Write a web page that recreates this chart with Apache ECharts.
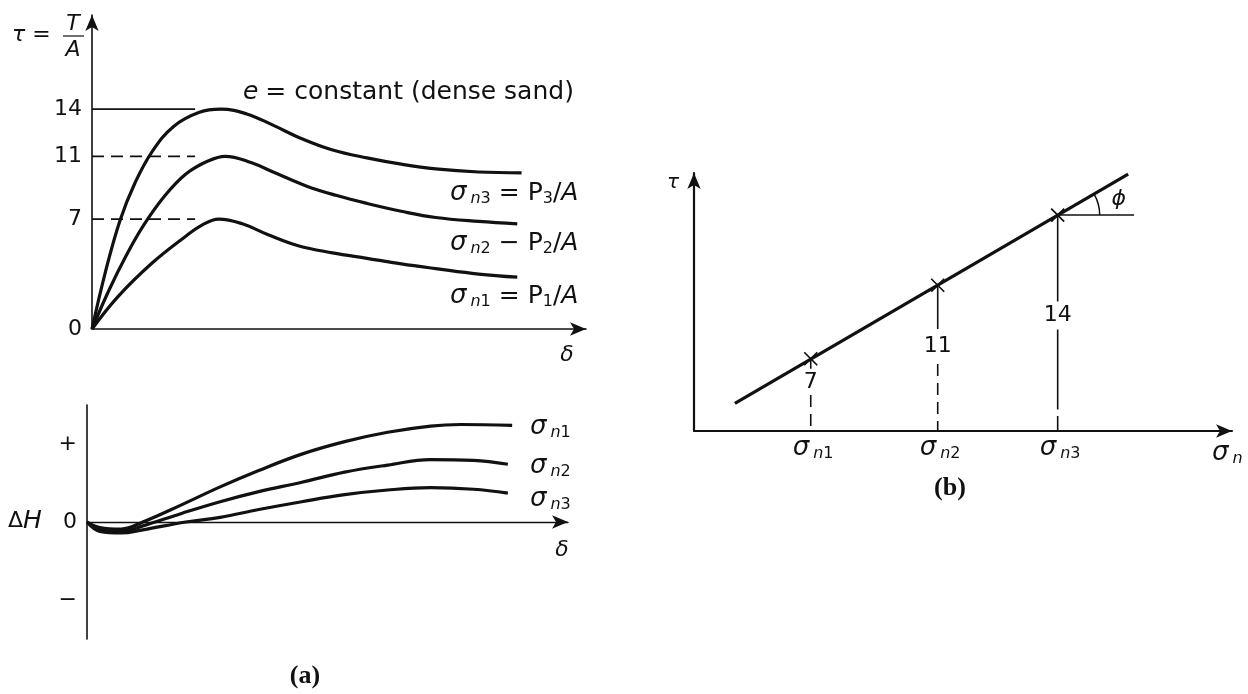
<!DOCTYPE html>
<html><head><meta charset="utf-8">
<script src="https://cdn.jsdelivr.net/npm/echarts@6/dist/echarts.min.js"></script>
<style>html,body{margin:0;padding:0;background:#fff}#c{width:1248px;height:694px}</style>
</head><body><div id="c"></div>
<script>
// ===== DATA =====
// (a) top: shear stress tau vs displacement delta  [delta, tau]
const tauCurveN3 = [[0,0],[0.3,3.5],[0.65,6.9],[1.0,9.3],[1.4,11.3],[1.9,12.9],[2.5,13.8],[3.0,14.0],[3.6,13.7],[4.2,13.0],[4.9,12.1],[5.6,11.4],[6.4,10.9],[7.2,10.5],[8.0,10.2],[9.0,10.0],[10.0,9.95]];
const tauCurveN2 = [[0,0],[0.4,2.5],[0.8,4.7],[1.2,6.6],[1.7,8.5],[2.2,9.9],[2.7,10.7],[3.1,11.0],[3.7,10.6],[4.3,9.9],[5.0,9.1],[5.7,8.5],[6.4,8.0],[7.2,7.5],[8.0,7.1],[9.0,6.85],[9.9,6.7]];
const tauCurveN1 = [[0,0],[0.6,2.05],[1.4,4.2],[2.16,5.86],[2.56,6.62],[2.95,7.0],[3.5,6.7],[4.1,6.0],[4.8,5.3],[5.6,4.85],[6.4,4.5],[7.2,4.15],[8.0,3.85],[9.0,3.5],[9.9,3.3]];
const peakTicks = [0, 7, 11, 14];
const peakLevels = [14, 11, 7];
// (a) bottom: height change dH vs delta  [delta, dH]
const dhCurveN1 = [[0,0],[0.3,-0.07],[0.8,-0.09],[1.3,0.0],[2.2,0.22],[3.1,0.45],[4.0,0.66],[5.0,0.87],[6.0,1.03],[7.0,1.15],[8.0,1.23],[8.7,1.25],[9.9,1.24]];
const dhCurveN2 = [[0,0],[0.3,-0.09],[0.8,-0.12],[1.3,-0.05],[2.2,0.11],[3.1,0.26],[4.0,0.39],[5.0,0.51],[6.0,0.64],[7.0,0.73],[8.0,0.8],[9.0,0.79],[9.8,0.74]];
const dhCurveN3 = [[0,0],[0.3,-0.12],[0.8,-0.14],[1.3,-0.1],[2.3,0.0],[3.1,0.06],[4.0,0.16],[5.0,0.26],[6.0,0.35],[7.0,0.41],[8.0,0.44],[9.0,0.42],[9.8,0.37]];
const dhTicks = {'1':'+','0':'0','-1':'\u2212'};
// (b) failure envelope (schematic units)
const sigmaN = [2.17, 4.53, 6.76];
const tauPlot = [2.8, 5.65, 8.37];
const tauLabels = ['7', '11', '14'];
const sigmaLabels = ['1', '2', '3'];
const envelopeEnds = [[0.76, 1.07], [8.07, 9.96]];

// ===== CHART =====
const chart = echarts.init(document.getElementById('c'), null, {renderer: 'canvas'});
const INK = '#111';
const SANS = 'DejaVu Sans';
const SERIF = 'Liberation Serif';

function curve(data, gi, w) {
  return {type: 'line', xAxisIndex: gi, yAxisIndex: gi, data: data, smooth: 0.4, symbol: 'none',
    silent: true, lineStyle: {color: INK, width: w || 3}, z: 5};
}
function seg(data, gi, dashed, w) {
  return {type: 'line', xAxisIndex: gi, yAxisIndex: gi, data: data, symbol: 'none', silent: true,
    lineStyle: {color: INK, width: w || 1.6, type: dashed ? [12, 7] : 'solid'}, z: 3};
}
const arrowLine = (w) => ({show: true, onZero: false, symbol: ['none', 'arrow'], symbolSize: [10, 16],
  lineStyle: {color: INK, width: w}});
const hidden = {axisTick: {show: false}, splitLine: {show: false}};

const subRich = {
  s: {fontFamily: SANS, fontSize: 26, fontStyle: 'italic', color: INK, verticalAlign: 'middle', lineHeight: 28},
  b: {fontFamily: SANS, fontSize: 16, color: INK, verticalAlign: 'bottom', lineHeight: 18},
  bi: {fontFamily: SANS, fontSize: 16, fontStyle: 'italic', color: INK, verticalAlign: 'bottom', lineHeight: 18, padding: [0, 0, 0, 4]},
  t: {fontFamily: SANS, fontSize: 25, color: INK, verticalAlign: 'middle', lineHeight: 28},
  ti: {fontFamily: SANS, fontSize: 25, fontStyle: 'italic', color: INK, verticalAlign: 'middle', lineHeight: 28}
};
function sigText(k, tail) { return '{s|\u03c3}{bi|n}{b|' + k + '}' + (tail || ''); }

const series = [];
// top panel
[tauCurveN3, tauCurveN2, tauCurveN1].forEach(d => series.push(curve(d, 0, 3.2)));
peakLevels.forEach((v, i) => series.push(seg([[0, v], [2.4, v]], 0, i > 0, 1.8)));
// bottom panel
[dhCurveN1, dhCurveN2, dhCurveN3].forEach(d => series.push(curve(d, 1, 3.2)));
// right panel: envelope
series.push({type: 'line', xAxisIndex: 2, yAxisIndex: 2, data: envelopeEnds, symbol: 'none', silent: true,
  lineStyle: {color: INK, width: 3.2}, z: 5});
// points (x marks)
series.push({type: 'scatter', xAxisIndex: 2, yAxisIndex: 2, silent: true, z: 6,
  data: sigmaN.map((s, i) => [s, tauPlot[i]]),
  symbol: 'path://M0,0L10,10M10,0L0,10', symbolSize: 13,
  itemStyle: {color: 'none', borderColor: INK, borderWidth: 1.7, opacity: 1}});
// drop lines with value labels (label gap as fraction of point height)
const gapFrac = [[0.86, 0.5], [0.7, 0.46], [0.6, 0.47]];
sigmaN.forEach((s, i) => {
  const h = tauPlot[i];
  series.push(seg([[s, h], [s, h * gapFrac[i][0]]], 2, false, 1.6));
  if (i < 2) {
    series.push(seg([[s, h * gapFrac[i][1]], [s, 0]], 2, true, 1.6));
  } else {
    series.push(seg([[s, h * gapFrac[i][1]], [s, h * 0.1]], 2, false, 1.6));
    series.push(seg([[s, h * 0.07], [s, 0]], 2, false, 1.6));
  }
});
// phi reference line
series.push(seg([[sigmaN[2], tauPlot[2]], [sigmaN[2] + 1.42, tauPlot[2]]], 2, false, 1.6));

const option = {
  animation: false,
  backgroundColor: '#fff',
  grid: [
    {left: 92, top: 15, width: 494, height: 314},
    {left: 87, top: 405, width: 481, height: 234},
    {left: 694, top: 173, width: 538, height: 258}
  ],
  xAxis: [
    Object.assign({gridIndex: 0, type: 'value', min: 0, max: 11.5, axisLine: arrowLine(1.6), axisLabel: {show: false}}, hidden),
    Object.assign({gridIndex: 1, type: 'value', min: 0, max: 11.2, axisLine: Object.assign(arrowLine(1.4), {onZero: true}), axisLabel: {show: false}}, hidden),
    Object.assign({gridIndex: 2, type: 'value', min: 0, max: 10, axisLine: arrowLine(2.2), axisLabel: {show: false}}, hidden)
  ],
  yAxis: [
    Object.assign({gridIndex: 0, type: 'value', min: 0, max: 20, interval: 1, axisLine: arrowLine(1.6),
      axisLabel: {show: true, margin: 10, fontFamily: SANS, fontSize: 22, color: INK,
        formatter: v => peakTicks.indexOf(v) >= 0 ? String(v) : ''}}, hidden),
    Object.assign({gridIndex: 1, type: 'value', min: -1.5, max: 1.5, interval: 0.5,
      axisLine: {show: true, onZero: false, lineStyle: {color: INK, width: 1.6}},
      axisLabel: {show: true, margin: 10, fontFamily: SANS, fontSize: 22, color: INK,
        formatter: v => dhTicks[String(v)] || ''}}, hidden),
    Object.assign({gridIndex: 2, type: 'value', min: 0, max: 10, axisLine: arrowLine(2.2), axisLabel: {show: false}}, hidden)
  ],
  series: series,
  graphic: []
};
chart.setOption(option);

// ---- annotations ----
function txt(x, y, text, extra) {
  return {type: 'text', x: x, y: y, silent: true, z: 10,
    style: Object.assign({text: text, fill: INK, font: '22px "' + SANS + '"', align: 'left', verticalAlign: 'middle', rich: subRich}, extra || {})};
}
const IT = (s) => 'italic ' + s + 'px "' + SANS + '"';
const g = [];
g.push(txt(12, 35, '\u03c4 =', {font: IT(22)}));
g.push(txt(73, 24, 'T', {font: IT(22), align: 'center'}));
g.push(txt(73, 50, 'A', {font: IT(22), align: 'center'}));
g.push({type: 'line', silent: true, shape: {x1: 63, y1: 36, x2: 84, y2: 36}, style: {stroke: INK, lineWidth: 1.2}});
g.push(txt(243, 92, '{ti|e} {t|= constant (dense sand)}'));
g.push(txt(450, 193, sigText('3', '{t| = P}{b|3}{t|/}{ti|A}')));
g.push(txt(450, 243, sigText('2', '{t| \u2212 P}{b|2}{t|/}{ti|A}')));
g.push(txt(450, 296, sigText('1', '{t| = P}{b|1}{t|/}{ti|A}')));
g.push(txt(567, 355, '\u03b4', {font: IT(22), align: 'center'}));
g.push(txt(562, 550, '\u03b4', {font: IT(22), align: 'center'}));
g.push(txt(8, 521, '\u0394{ti|H}', {font: '22px "' + SANS + '"'}));
g.push(txt(530, 427, sigText('1')));
g.push(txt(530, 466, sigText('2')));
g.push(txt(530, 499, sigText('3')));
g.push(txt(305, 676, '(a)', {font: 'bold 26px "' + SERIF + '"', align: 'center'}));
g.push(txt(950, 488, '(b)', {font: 'bold 26px "' + SERIF + '"', align: 'center'}));
g.push(txt(673, 183, '\u03c4', {font: IT(20), align: 'center'}));
g.push(txt(1212, 453, sigText('')));
// right-panel labels placed from data
sigmaN.forEach((s, i) => {
  const h = tauPlot[i] * (gapFrac[i][0] + gapFrac[i][1]) / 2;
  const pv = chart.convertToPixel({gridIndex: 2}, [s, h]);
  g.push(txt(pv[0], pv[1], tauLabels[i], {font: '22px "' + SANS + '"', align: 'center'}));
  const p0 = chart.convertToPixel({gridIndex: 2}, [s, 0]);
  g.push(txt(p0[0] - 18, p0[1] + 17, sigText(sigmaLabels[i])));
});
// phi arc from data
const p3 = chart.convertToPixel({gridIndex: 2}, [sigmaN[2], tauPlot[2]]);
const e0 = chart.convertToPixel({gridIndex: 2}, envelopeEnds[0]);
const e1 = chart.convertToPixel({gridIndex: 2}, envelopeEnds[1]);
const ang = Math.atan2(e1[1] - e0[1], e1[0] - e0[0]);
g.push({type: 'arc', silent: true, shape: {cx: p3[0], cy: p3[1], r: 42, startAngle: ang, endAngle: 0, clockwise: true},
  style: {stroke: INK, lineWidth: 1.5, fill: null}});
g.push(txt(p3[0] + 61, p3[1] - 16, '\u03d5', {font: IT(22), align: 'center'}));
chart.setOption({graphic: g});
</script>
</body></html>
